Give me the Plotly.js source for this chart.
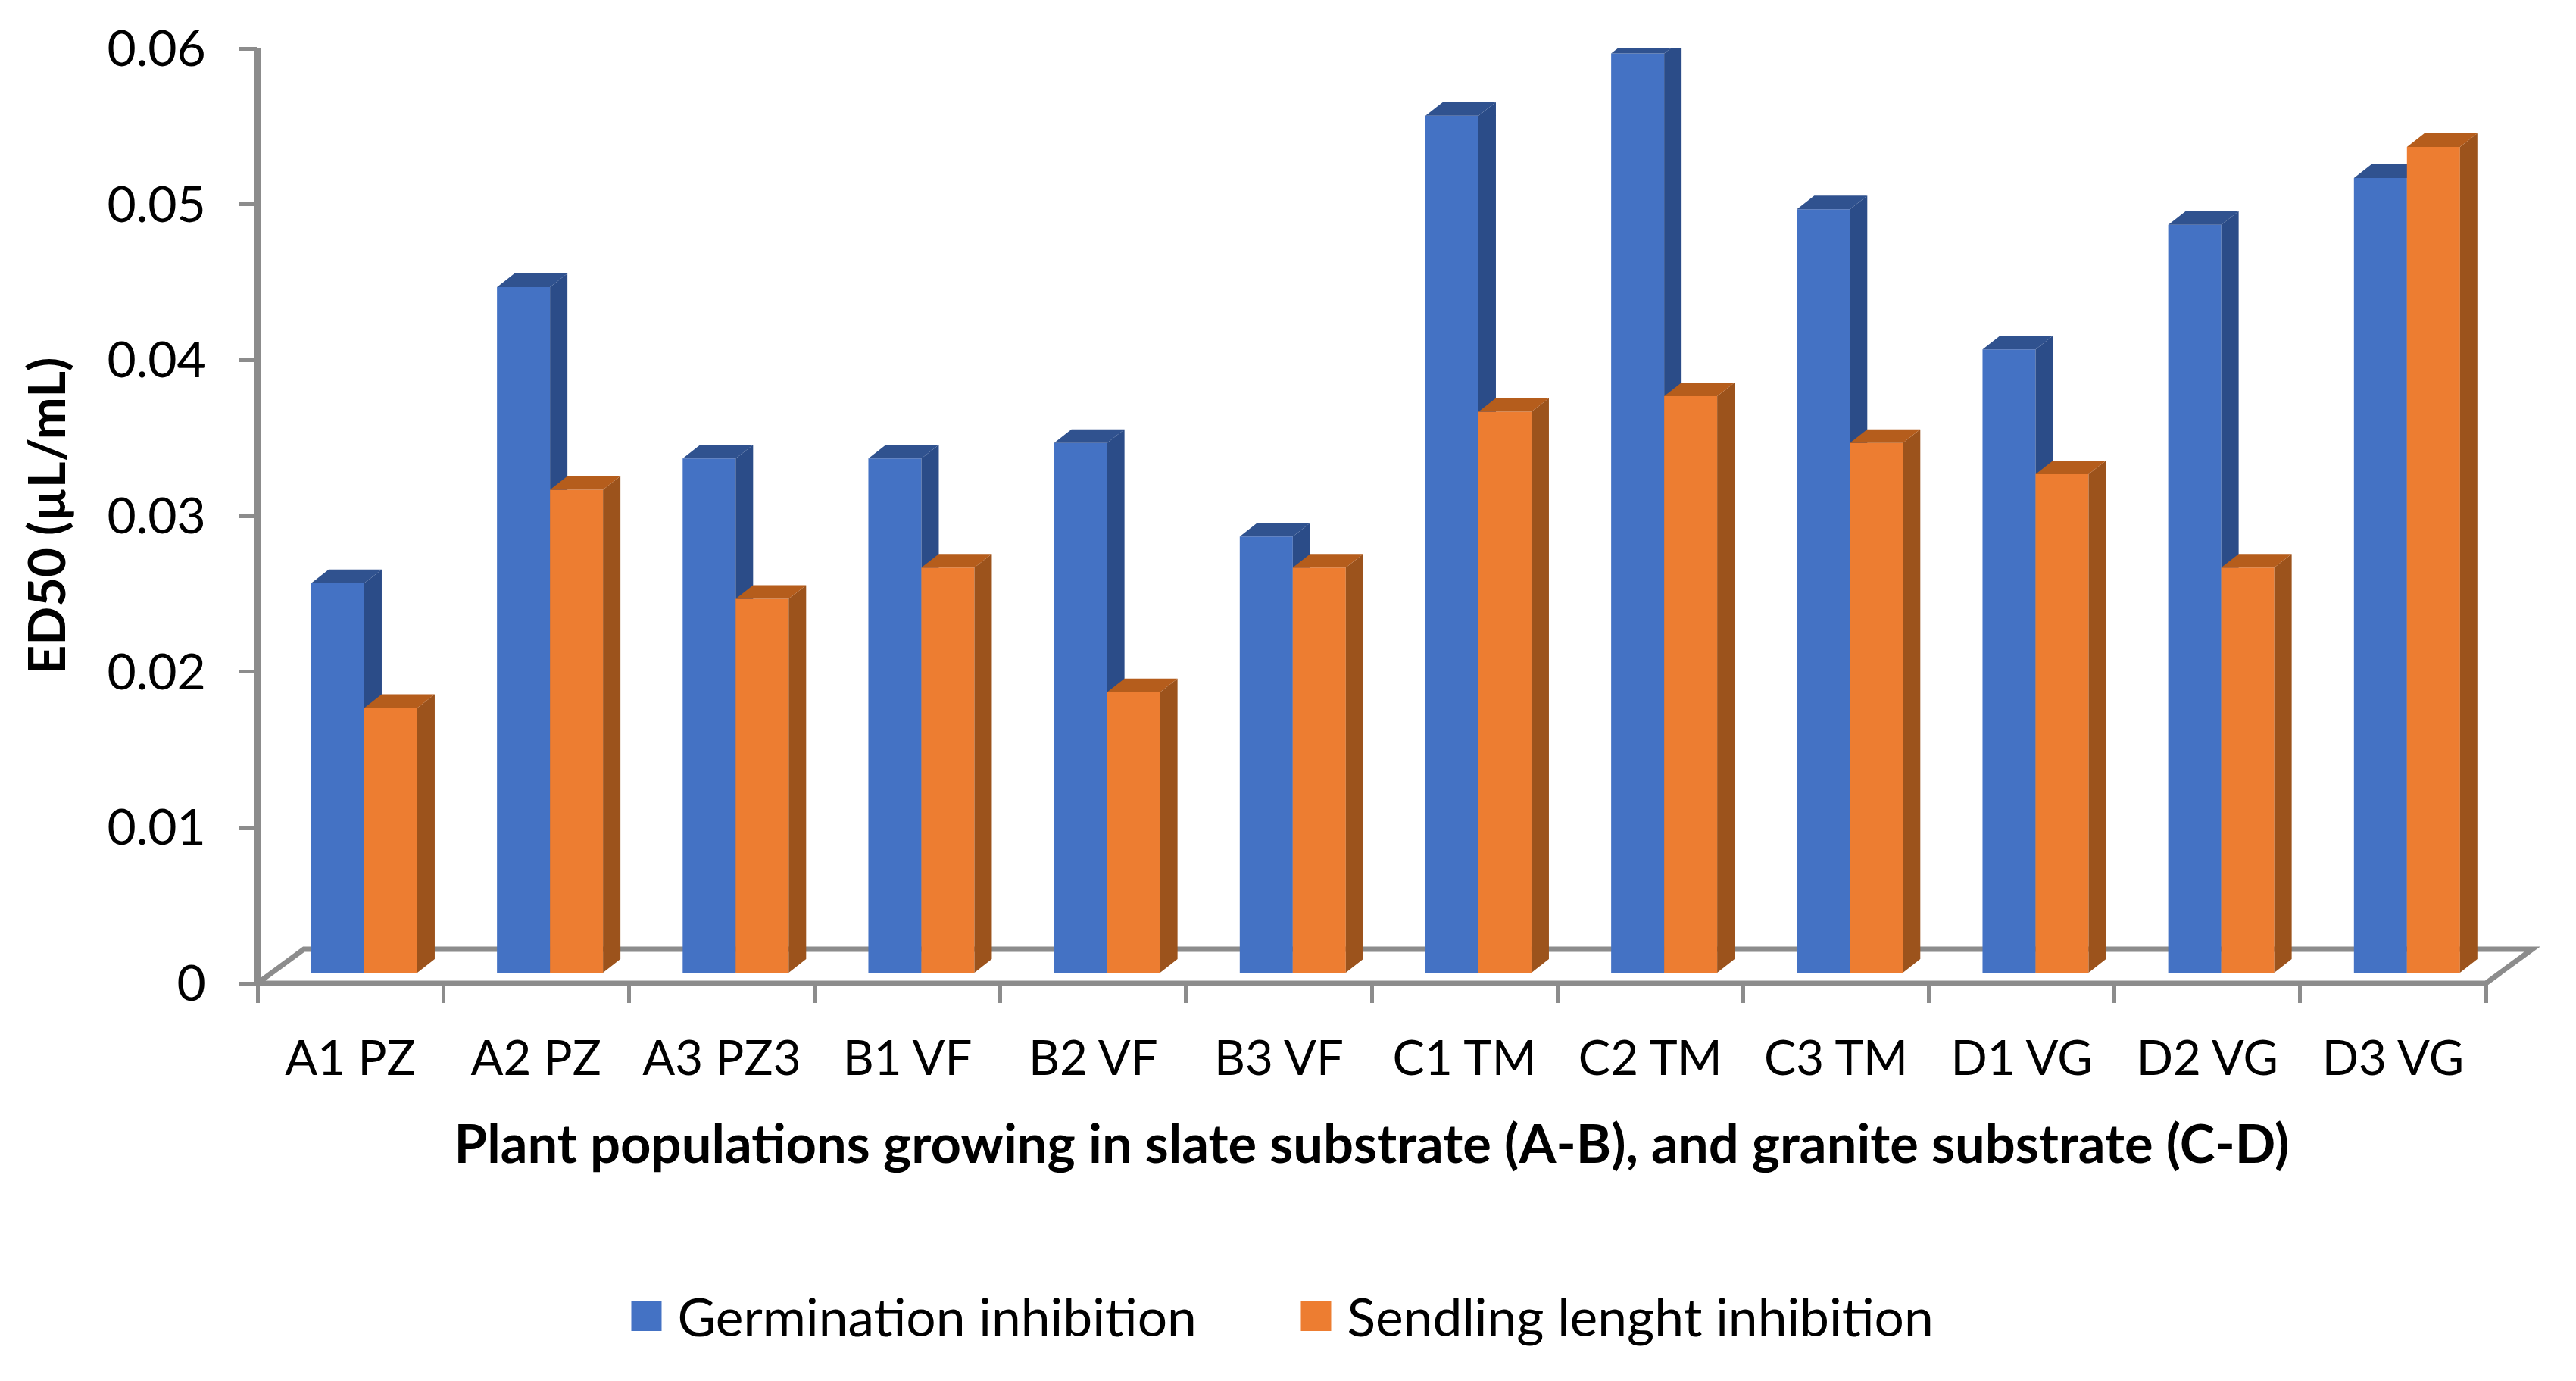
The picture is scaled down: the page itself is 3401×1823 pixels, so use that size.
<!DOCTYPE html>
<html>
<head>
<meta charset="utf-8">
<script src="https://cdn.plot.ly/plotly-3.0.1.min.js"></script>
<style>html,body{margin:0;padding:0;background:#fff}</style>
</head>
<body>
<div id="chart" style="width:3401px;height:1823px"></div>
<script>
var categories = ["A1 PZ","A2 PZ","A3 PZ3","B1 VF","B2 VF","B3 VF","C1 TM","C2 TM","C3 TM","D1 VG","D2 VG","D3 VG"];
var germination = [0.025,0.044,0.033,0.033,0.034,0.028,0.055,0.059,0.049,0.040,0.048,0.051];
var seedling = [0.017,0.031,0.024,0.026,0.018,0.026,0.036,0.037,0.034,0.032,0.026,0.053];
var seriesNames = ["Germination inhibition","Sendling lenght inhibition"];
var yTicks = [0,0.01,0.02,0.03,0.04,0.05,0.06];

var FONT = "Lato, Carlito, sans-serif";
var GREY = "#8c8c8c";
var barW = 0.2855, shift = 0.075;
var dx = 0.0938, dy = 0.000875, base0 = 0.00068;
var floorDx = 0.0208, floorDy = 0.0365;
var positions = categories.map(function(_, i){ return i; });
var boundaries = categories.map(function(_, i){ return i - 0.5; }).concat([categories.length - 0.5]);

function faces(values, leftOffset){
  var side = {x:[], y:[]}, top = {x:[], y:[]};
  values.forEach(function(v, i){
    var l = i + leftOffset, r = l + barW, t = v + base0;
    side.x.push(r, r+dx, r+dx, r, r, null);
    side.y.push(base0, base0+dy, t+dy, t, base0, null);
    top.x.push(l, l+dx, r+dx, r, l, null);
    top.y.push(t, t+dy, t+dy, t, t, null);
  });
  return {side: side, top: top};
}
function face(d, color, xa){
  return {type:"scatter", mode:"lines", x:d.x, y:d.y, fill:"toself", fillcolor:color,
    line:{width:0, color:color}, xaxis:xa, yaxis:"y", showlegend:false, hoverinfo:"skip", cliponaxis:false};
}
function bar(values, name, color, off, xa){
  return {type:"bar", x:positions, y:values, base:base0, name:name, width:barW, offset:off,
    marker:{color:color, line:{width:0}}, xaxis:xa, yaxis:"y", cliponaxis:false};
}
var fb = faces(germination, shift - barW), fo = faces(seedling, shift);
var traces = [
  bar(germination, seriesNames[0], "#4472C4", shift - barW, "x"),
  face(fb.side, "#2B4C88", "x"),
  face(fb.top, "#30528F", "x"),
  bar(seedling, seriesNames[1], "#ED7D31", shift, "x2"),
  face(fo.side, "#9C531C", "x2"),
  face(fo.top, "#B55D1C", "x2")
];
var xr = [-0.5, categories.length - 0.5];
var layout = {
  width:3401, height:1823, paper_bgcolor:"#fff", plot_bgcolor:"rgba(0,0,0,0)",
  margin:{l:340, r:119, t:64, b:525, pad:0},
  barmode:"overlay",
  font:{family:FONT, color:"#000", size:62},
  xaxis:{type:"linear", range:xr, tickmode:"array", tickvals:boundaries, ticktext:boundaries.map(function(){return "";}),
    ticks:"outside", ticklen:25, tickwidth:5, tickcolor:GREY, showline:false,
    showgrid:false, zeroline:false},
  xaxis2:{type:"linear", range:xr, overlaying:"x", anchor:"y", side:"bottom", tickmode:"array", tickvals:positions, ticktext:categories,
    ticks:"", showline:false, showgrid:false, zeroline:false, ticklabelstandoff:56,
    tickfont:{family:FONT, size:63.5, color:"#000"},
    title:{text:"Plant populations growing in slate substrate (A-B), and granite substrate (C-D)",
      font:{family:FONT, size:70.5, color:"#000", weight:700}, standoff:54}},
  yaxis:{range:[0,0.06], tickmode:"array", tickvals:yTicks, ticktext:yTicks.map(String),
    ticks:"outside", ticklen:24, tickwidth:5, tickcolor:GREY, showline:false,
    showgrid:false, zeroline:false, ticklabelstandoff:30, tickfont:{family:FONT, size:66, color:"#000"},
    title:{text:"ED50 (µL/mL)", font:{family:FONT, size:67, color:"#000", weight:700}, standoff:32}},
  shapes:[
    {type:"path", layer:"below", xref:"paper", yref:"paper",
     path:"M0,0L"+floorDx+","+floorDy+"L"+(1+floorDx)+","+floorDy+"L1,0Z",
     line:{color:GREY, width:7}, fillcolor:"rgba(0,0,0,0)"},
    {type:"line", layer:"below", xref:"paper", yref:"paper", x0:0, x1:0, y0:0, y1:1, line:{color:GREY, width:8}}
  ],
  showlegend:true,
  legend:{orientation:"h", x:0.1606, xanchor:"left", y:-0.356, yanchor:"middle", traceorder:"normal",
    font:{family:FONT, size:69.5, color:"#000"}, itemwidth:72, entrywidth:797, entrywidthmode:"pixels",
    bgcolor:"rgba(0,0,0,0)", itemclick:false, itemdoubleclick:false}
};
Plotly.newPlot("chart", traces, layout, {displayModeBar:false, staticPlot:true}).then(function(){
  document.querySelectorAll(".legend .legendpoints path").forEach(function(p){
    p.setAttribute("d","M20,20H-20V-20H20Z");
  });
});
</script>
</body>
</html>
